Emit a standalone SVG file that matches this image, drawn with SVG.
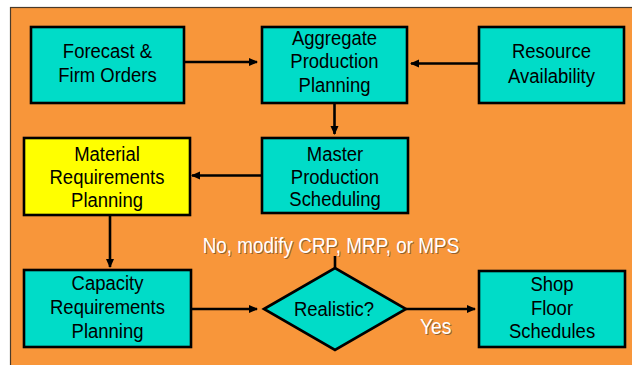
<svg xmlns="http://www.w3.org/2000/svg" width="632" height="365" viewBox="0 0 632 365">
<defs>
<marker id="ah" markerWidth="10" markerHeight="10" refX="8" refY="5" orient="auto" markerUnits="userSpaceOnUse">
<path d="M0,1 L9,5 L0,9 Z" fill="#000"/>
</marker>
<style>
.box{fill:#00DCC8;stroke:#000;stroke-width:2.6}
.yel{fill:#FFFF00;stroke:#000;stroke-width:2.6}
.t{font-family:"Liberation Sans",Arial,sans-serif;font-size:21px;fill:#000;text-anchor:middle}
.w{font-family:"Liberation Sans",Arial,sans-serif;font-size:22px;fill:#fff;text-anchor:middle}
.sh{font-family:"Liberation Sans",Arial,sans-serif;font-size:22px;fill:#6a4a2a;text-anchor:middle;opacity:0.7}
.c{stroke:#000;stroke-width:2.6;fill:none}
</style>
</defs>
<rect x="0" y="0" width="632" height="365" fill="#fff"/>
<rect x="10.5" y="7.5" width="625" height="362" fill="#F8963A" stroke="#4a3a2a" stroke-width="1.2"/>

<g id="forecast">
<rect class="box" x="31" y="27" width="153" height="76"/>
<text class="t" transform="translate(107.5 0) scale(0.88 1)"><tspan x="0" y="58.5">Forecast &amp;</tspan><tspan x="0" y="82.5">Firm Orders</tspan></text>
</g>
<g id="aggregate">
<rect class="box" x="262" y="27" width="145" height="76"/>
<text class="t" transform="translate(334.5 0) scale(0.88 1)"><tspan x="0" y="45">Aggregate</tspan><tspan x="0" y="68.5">Production</tspan><tspan x="0" y="92">Planning</tspan></text>
</g>
<g id="resource">
<rect class="box" x="479" y="27" width="145" height="76"/>
<text class="t" transform="translate(551.5 0) scale(0.88 1)"><tspan x="0" y="58.5">Resource</tspan><tspan x="0" y="83">Availability</tspan></text>
</g>
<g id="master">
<rect class="box" x="262" y="138" width="146" height="75"/>
<text class="t" transform="translate(335 0) scale(0.88 1)"><tspan x="0" y="161.5">Master</tspan><tspan x="0" y="184">Production</tspan><tspan x="0" y="206.5">Scheduling</tspan></text>
</g>
<g id="mrp">
<rect class="yel" x="24" y="138" width="166" height="77"/>
<text class="t" transform="translate(107 0) scale(0.88 1)"><tspan x="0" y="161.5">Material</tspan><tspan x="0" y="184.5">Requirements</tspan><tspan x="0" y="207">Planning</tspan></text>
</g>
<g id="crp">
<rect class="box" x="24" y="270" width="167" height="77"/>
<text class="t" transform="translate(107.5 0) scale(0.88 1)"><tspan x="0" y="290.5">Capacity</tspan><tspan x="0" y="314">Requirements</tspan><tspan x="0" y="338">Planning</tspan></text>
</g>
<g id="realistic">
<polygon class="box" points="264,309 335,268 406,309 335,350"/>
<text class="t" transform="translate(334 0) scale(0.88 1)" x="0" y="316.5">Realistic?</text>
</g>
<g id="shop">
<rect class="box" x="479" y="271" width="146" height="76"/>
<text class="t" transform="translate(552 0) scale(0.88 1)"><tspan x="0" y="291.5">Shop</tspan><tspan x="0" y="315">Floor</tspan><tspan x="0" y="338.5">Schedules</tspan></text>
</g>

<g id="connectors">
<line class="c" x1="184" y1="62" x2="257" y2="62" marker-end="url(#ah)"/>
<line class="c" x1="479" y1="63.5" x2="411" y2="63.5" marker-end="url(#ah)"/>
<line class="c" x1="334.5" y1="103" x2="334.5" y2="134" marker-end="url(#ah)"/>
<line class="c" x1="262" y1="175.5" x2="192" y2="175.5" marker-end="url(#ah)"/>
<line class="c" x1="110" y1="215" x2="110" y2="267" marker-end="url(#ah)"/>
<line class="c" x1="191" y1="309" x2="257" y2="309" marker-end="url(#ah)"/>
<line class="c" x1="406" y1="309" x2="475" y2="309" marker-end="url(#ah)"/>
<line class="c" x1="335" y1="268" x2="335" y2="256"/>
</g>

<g id="labels">
<text class="sh" transform="translate(332 0) scale(0.86 1)" x="0" y="254.2">No, modify CRP, MRP, or MPS</text>
<text class="w" transform="translate(331 0) scale(0.86 1)" x="0" y="253">No, modify CRP, MRP, or MPS</text>
<text class="sh" transform="translate(436.7 0) scale(0.88 1)" x="0" y="335.2">Yes</text>
<text class="w" transform="translate(435.7 0) scale(0.88 1)" x="0" y="334">Yes</text>
</g>
</svg>
